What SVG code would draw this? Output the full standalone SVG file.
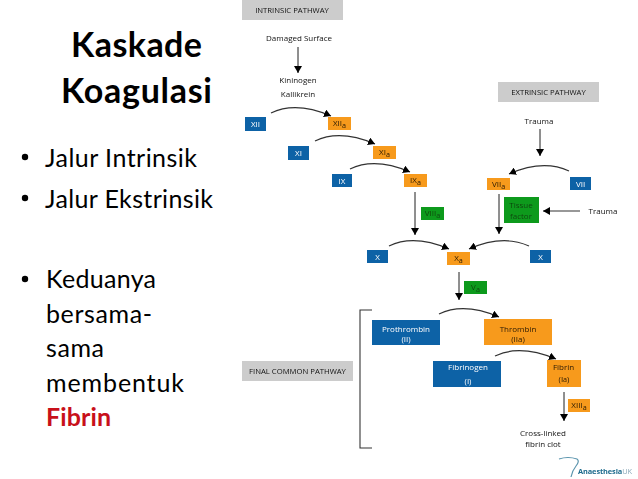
<svg xmlns="http://www.w3.org/2000/svg" width="638" height="479" viewBox="0 0 638 479">
<style>
.t{font-family:"Lato","Noto Sans",sans-serif;fill:#000}
.h{font-size:34px;font-weight:700}
.b{font-size:25px}
.d{font-family:"Open Sans","Liberation Sans",sans-serif;font-size:8px;text-anchor:middle;fill:#111;font-weight:500}
.g{font-size:7.7px}
.s{font-size:7.2px}
.w{fill:#fff}
.k{fill:#2a1a00}
.gt{fill:#064a0c}
.blue{fill:#0f62a6}
.orange{fill:#f79a1e}
.green{fill:#0e9a1e}
.gray{fill:#cccccc}
.c path{fill:none;stroke:#333;stroke-width:1.1}
.c .a{marker-end:url(#ah)}
</style>
<defs>
<marker id="ah" markerUnits="userSpaceOnUse" markerWidth="9" markerHeight="8" refX="7" refY="4" orient="auto"><path d="M0,0 L7,4 L0,8 Z" fill="#000"/></marker>
<filter id="soft" x="-5%" y="-5%" width="110%" height="110%"><feGaussianBlur stdDeviation="0.35"/></filter>
</defs>
<rect width="638" height="479" fill="#fff"/>
<g id="title">
<text class="t h" x="71" y="57" textLength="131">Kaskade</text>
<text class="t h" x="61" y="103" textLength="151">Koagulasi</text>
</g>
<g id="bullets">
<circle cx="25" cy="157" r="3.2"/><circle cx="25" cy="198" r="3.2"/><circle cx="25" cy="279" r="3.2"/>
<text class="t b" x="45" y="167" textLength="152">Jalur Intrinsik</text>
<text class="t b" x="45" y="208" textLength="168">Jalur Ekstrinsik</text>
<text class="t b" x="46" y="288" textLength="110">Keduanya</text>
<text class="t b" x="46" y="323" textLength="106">bersama-</text>
<text class="t b" x="46" y="357" textLength="58">sama</text>
<text class="t b" x="46" y="392" textLength="138">membentuk</text>
<text class="t b" x="46" y="426" textLength="65" style="font-weight:700;fill:#c8101a">Fibrin</text>
</g>
<g filter="url(#soft)">
<g id="connectors" class="c">
<path class="a" d="M298,47V73"/>
<path class="a" d="M271,113Q296,101 331,116"/>
<path class="a" d="M315,141Q340,129 375,144"/>
<path class="a" d="M350,169Q375,157 410,172"/>
<path class="a" d="M415,192V235"/>
<path class="a" d="M540,129V156"/>
<path class="a" d="M569,171Q543,159 509,174"/>
<path class="a" d="M580,211H543"/>
<path class="a" d="M499,194V234"/>
<path class="a" d="M529,246Q503,234 469,249"/>
<path class="a" d="M389,246Q414,234 449,249"/>
<path class="a" d="M459,272V300"/>
<path class="a" d="M439,314Q464,302 499,317"/>
<path class="a" d="M495,356Q520,344 556,359"/>
<path class="a" d="M564,392V421"/>
<path d="M372,310H360V448H372"/>
</g>
<g id="intrinsic-label"><rect class="gray" x="242" y="0" width="101" height="20"/><text class="d g" x="292" y="13">INTRINSIC PATHWAY</text></g>
<g id="damaged"><text class="d" x="299" y="41">Damaged Surface</text></g>
<g id="kininogen"><text class="d" x="298" y="83">Kininogen</text><text class="d" x="298" y="97">Kallikrein</text></g>
<g id="xii"><rect class="blue" x="245" y="117" width="21" height="14"/><text class="d w" x="255.500" y="127">XII</text></g>
<g id="xiia"><rect class="orange" x="328" y="117" width="23" height="13"/><text class="d k" x="339.500" y="126">XII<tspan class="s" dy="2">a</tspan></text></g>
<g id="xi"><rect class="blue" x="288" y="146" width="21" height="14"/><text class="d w" x="298.500" y="156">XI</text></g>
<g id="xia"><rect class="orange" x="373" y="146" width="23" height="13"/><text class="d k" x="384.500" y="155">XI<tspan class="s" dy="2">a</tspan></text></g>
<g id="ix"><rect class="blue" x="332" y="174" width="20" height="13"/><text class="d w" x="342" y="183.500">IX</text></g>
<g id="ixa"><rect class="orange" x="404" y="174" width="23" height="13"/><text class="d k" x="415.500" y="183">IX<tspan class="s" dy="2">a</tspan></text></g>
<g id="viiia"><rect class="green" x="421" y="207" width="23" height="13"/><text class="d gt" x="432.500" y="216">VIII<tspan class="s" dy="2">a</tspan></text></g>
<g id="extrinsic-label"><rect class="gray" x="498" y="82" width="101" height="20"/><text class="d g" x="548.500" y="95">EXTRINSIC PATHWAY</text></g>
<g id="trauma1"><text class="d" x="539" y="124">Trauma</text></g>
<g id="viia"><rect class="orange" x="487" y="178" width="23" height="12"/><text class="d k" x="498.500" y="187">VII<tspan class="s" dy="2">a</tspan></text></g>
<g id="vii"><rect class="blue" x="570" y="177" width="21" height="13"/><text class="d w" x="580.500" y="186.500">VII</text></g>
<g id="tissue"><rect class="green" x="504" y="197" width="35" height="26"/><text class="d gt" x="521" y="208">Tissue</text><text class="d gt" x="521" y="218.500">factor</text></g>
<g id="trauma2"><text class="d" x="603" y="214">Trauma</text></g>
<g id="x-left"><rect class="blue" x="367" y="250" width="21" height="13"/><text class="d w" x="377.500" y="259.500">X</text></g>
<g id="x-right"><rect class="blue" x="530" y="250" width="21" height="13"/><text class="d w" x="540.500" y="259.500">X</text></g>
<g id="xa"><rect class="orange" x="447" y="252" width="23" height="13"/><text class="d k" x="458.500" y="261">X<tspan class="s" dy="2">a</tspan></text></g>
<g id="va"><rect class="green" x="464" y="281" width="23" height="13"/><text class="d gt" x="475.500" y="290">V<tspan class="s" dy="2">a</tspan></text></g>
<g id="final-label"><rect class="gray" x="242" y="361" width="111" height="20"/><text class="d g" x="297.500" y="374">FINAL COMMON  PATHWAY</text></g>
<g id="prothrombin"><rect class="blue" x="372" y="320" width="68" height="25"/><text class="d w" x="406" y="332">Prothrombin</text><text class="d w" x="406" y="341.500">(II)</text></g>
<g id="thrombin"><rect class="orange" x="484" y="319" width="68" height="26"/><text class="d k" x="518" y="331.500">Thrombin</text><text class="d k" x="518" y="342">(IIa)</text></g>
<g id="fibrinogen"><rect class="blue" x="433" y="361" width="68" height="26"/><text class="d w" x="468" y="369.500">Fibrinogen</text><text class="d w" x="468" y="384">(I)</text></g>
<g id="fibrin"><rect class="orange" x="547" y="360" width="34" height="27"/><text class="d k" x="563.500" y="369.500">Fibrin</text><text class="d k" x="564" y="382">(I<tspan class="s">a</tspan>)</text></g>
<g id="xiiia"><rect class="orange" x="568" y="399" width="22" height="13"/><text class="d k" x="579" y="408">XIII<tspan class="s" dy="2">a</tspan></text></g>
<g id="clot"><text class="d" x="543" y="436">Cross-linked</text><text class="d" x="543" y="447">fibrin clot</text></g>
<g id="logo"><path d="M559,459Q568,456 577,459Q580,461 576,466Q572,471 571,477" fill="none" stroke="#5a94ad" stroke-width="1.2"/><text x="578" y="474" textLength="54" style="font-family:'Open Sans',sans-serif;font-size:7.4px;font-weight:700;fill:#1c6a8c">Anaesthesia<tspan style="font-weight:400;fill:#8aa8b8">UK</tspan></text></g>
</g>
</svg>
